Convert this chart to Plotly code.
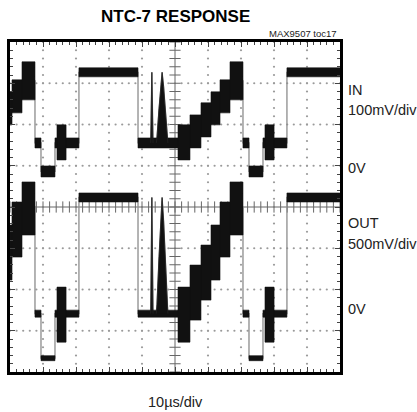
import plotly.graph_objects as go

# ---------------- data ----------------
# time in microseconds (10 us/div, 10 div); vertical in screen divisions (8 div)
T_RANGE = [0, 100]
Y_RANGE = [-4, 4]

# sync leading edges of the lines visible in the window (us)
line_starts = [-53.64, 9.39, 72.42]

# NTC-7 line template, times relative to the sync edge (us)
sync_end = 4.24
burst_start, burst_end = 4.85, 7.60
white_start, white_end = 11.50, 29.40
pulse2t_t = 33.6
pulse12t_t = 36.7
step_edges = [41.52, 45.15, 48.48, 51.52, 54.25, 57.28, 61.21]
line_period = 63.03

# 12.5T pulse shape: offset (us) and fraction of the white level
pulse_dt = [-1.75, -1.55, -0.95, -0.45, 0.0, 0.45, 0.95, 1.55, 1.75]
pulse_frac = [0.0, 0.08, 0.49, 0.80, 1.0, 0.80, 0.49, 0.08, 0.0]
pulse2t_half = 0.35

# IN channel (100mV/div), levels in divisions
in_sync, in_blank, in_white = 0.862, 1.553, 3.265
in_noise = {"sync": 0.133, "blank": 0.121, "white": 0.109}
in_steps = [1.566, 1.833, 2.112, 2.391, 2.682, 3.058]
in_steps_half = [0.425, 0.40, 0.413, 0.40, 0.40, 0.461]
in_burst, in_burst_half = 1.566, 0.425

# OUT channel (500mV/div), levels in divisions
out_sync, out_blank, out_white = -3.665, -2.585, 0.231
out_noise = {"sync": 0.061, "blank": 0.085, "white": 0.109}
out_steps = [-2.609, -2.075, -1.590, -1.104, -0.546, -0.036]
out_steps_half = [0.667, 0.667, 0.667, 0.667, 0.667, 0.643]
out_burst, out_burst_half = -2.609, 0.667

# labels
title_text = "NTC-7 RESPONSE"
ref_text = "MAX9507 toc17"
x_label = "10\u00b5s/div"
right_labels = [("IN", 0.8545), ("100mV/div", 0.794), ("0V", 0.617),
                ("OUT", 0.4515), ("500mV/div", 0.388), ("0V", 0.191)]

FONT = "Liberation Sans, Arial, sans-serif"


def channel(sync, blank, white, noise, steps, steps_half, burst, burst_half):
    path_x, path_y = [], []
    band_x, band_y = [], []
    pulse_x, pulse_y = [], []

    def rect(t0, t1, c, h):
        band_x.extend([t0, t1, t1, t0, t0, None])
        band_y.extend([c - h, c - h, c + h, c + h, c - h, None])

    for L in line_starts:
        # beam path
        segs = [(0, sync_end, sync), (sync_end, white_start, blank),
                (white_start, white_end, white), (white_end, pulse2t_t - pulse2t_half, blank)]
        for t0, t1, lv in segs:
            path_x.extend([L + t0, L + t1]); path_y.extend([lv, lv])
        path_x.extend([L + pulse2t_t, L + pulse2t_t + pulse2t_half])
        path_y.extend([white, blank])
        for dt, fr in zip(pulse_dt, pulse_frac):
            path_x.append(L + pulse12t_t + dt); path_y.append(blank + fr * (white - blank))
        path_x.append(L + step_edges[0]); path_y.append(blank)
        for i, lv in enumerate(steps):
            path_x.extend([L + step_edges[i], L + step_edges[i + 1]]); path_y.extend([lv, lv])
        path_x.extend([L + step_edges[-1], L + line_period]); path_y.extend([blank, blank])

        # noisy / modulated bands
        rect(L + 0, L + sync_end, sync, noise["sync"])
        rect(L + sync_end, L + burst_start, blank, noise["blank"])
        rect(L + burst_start, L + burst_end, burst, burst_half)
        rect(L + burst_end, L + white_start, blank, noise["blank"])
        rect(L + white_start, L + white_end, white, noise["white"])
        rect(L + white_end, L + step_edges[0], blank, noise["blank"])
        for i, lv in enumerate(steps):
            rect(L + step_edges[i], L + step_edges[i + 1], lv, steps_half[i])
        rect(L + step_edges[-1], L + line_period, blank, noise["blank"])

        # pulses
        for dt, fr in zip(pulse_dt, pulse_frac):
            pulse_x.append(L + pulse12t_t + dt); pulse_y.append(blank + fr * (white - blank))
        pulse_x.append(None); pulse_y.append(None)
        pulse_x.extend([L + pulse2t_t - pulse2t_half, L + pulse2t_t, L + pulse2t_t + pulse2t_half, None])
        pulse_y.extend([blank, white, blank, None])
    return path_x, path_y, band_x, band_y, pulse_x, pulse_y


fig = go.Figure()

# graticule dots
gx, gy = [], []
for xv in [10, 20, 30, 40, 60, 70, 80, 90]:
    for k in range(41):
        gx.append(xv); gy.append(-4 + 0.2 * k)
for yv in [-3, -2, -1, 1, 2, 3]:
    for k in range(51):
        gx.append(2 * k); gy.append(yv)
fig.add_trace(go.Scatter(x=gx, y=gy, mode="markers", hoverinfo="skip",
                         marker=dict(size=2.2, color="#9a9a9a", line=dict(width=0))))

# centre-axis tick marks
fig.add_trace(go.Scatter(x=[2 * k for k in range(51)], y=[0] * 51, mode="markers", hoverinfo="skip",
                         marker=dict(symbol="line-ns", size=8, line=dict(width=1, color="#666"))))
fig.add_trace(go.Scatter(x=[50] * 41, y=[-4 + 0.2 * k for k in range(41)], mode="markers", hoverinfo="skip",
                         marker=dict(symbol="line-ew", size=8, line=dict(width=1, color="#666"))))

for args in [(in_sync, in_blank, in_white, in_noise, in_steps, in_steps_half, in_burst, in_burst_half),
             (out_sync, out_blank, out_white, out_noise, out_steps, out_steps_half, out_burst, out_burst_half)]:
    px_, py_, bx, by, qx, qy = channel(*args)
    fig.add_trace(go.Scatter(x=px_, y=py_, mode="lines", hoverinfo="skip",
                             line=dict(color="#8c8c8c", width=1.3)))
    fig.add_trace(go.Scatter(x=bx, y=by, mode="lines", fill="toself", fillcolor="#111111",
                             hoverinfo="skip", line=dict(color="#111111", width=0.6)))
    fig.add_trace(go.Scatter(x=qx, y=qy, mode="lines", fill="toself", fillcolor="#111111",
                             hoverinfo="skip", line=dict(color="#222222", width=0.8)))

fig.add_shape(type="line", x0=50, x1=50, y0=-4, y1=4, line=dict(color="#666", width=1), layer="below")
fig.add_shape(type="line", x0=0, x1=100, y0=0, y1=0, line=dict(color="#666", width=1), layer="below")

axis_common = dict(showgrid=False, zeroline=False, showline=True, linecolor="black", linewidth=3,
                   mirror="ticks", ticks="inside", ticklen=5, tickwidth=1, tickcolor="#444",
                   showticklabels=False, fixedrange=True)
fig.update_xaxes(range=T_RANGE, tick0=0, dtick=10,
                 minor=dict(dtick=2, ticklen=3, ticks="inside", tickcolor="#444", tickwidth=1),
                 **axis_common)
fig.update_yaxes(range=Y_RANGE, tick0=-4, dtick=1,
                 minor=dict(dtick=0.2, ticklen=3, ticks="inside", tickcolor="#444", tickwidth=1),
                 **axis_common)

ann = [
    dict(text="<b>" + title_text + "</b>", x=0.5, y=1.078, xanchor="center", yanchor="middle",
         font=dict(size=17, color="black", family=FONT)),
    dict(text=ref_text, x=0.997, y=1.026, xanchor="right", yanchor="middle",
         font=dict(size=9.5, color="#222", family=FONT)),
    dict(text=x_label, x=0.5, y=-0.0909, xanchor="center", yanchor="middle",
         font=dict(size=14.5, color="#222", family=FONT)),
]
for txt, yy in right_labels:
    ann.append(dict(text=txt, x=1.018, y=yy, xanchor="left", yanchor="middle",
                    font=dict(size=14.5, color="#222", family=FONT)))
for a in ann:
    a.update(xref="paper", yref="paper", showarrow=False)

fig.update_layout(width=417, height=412, margin=dict(l=10, r=77, t=42, b=40),
                  paper_bgcolor="white", plot_bgcolor="white", showlegend=False,
                  annotations=ann)

fig.write_html("out.html", config={"displayModeBar": False},
               post_script="document.body.style.margin='0px';document.body.style.overflow='hidden';")
